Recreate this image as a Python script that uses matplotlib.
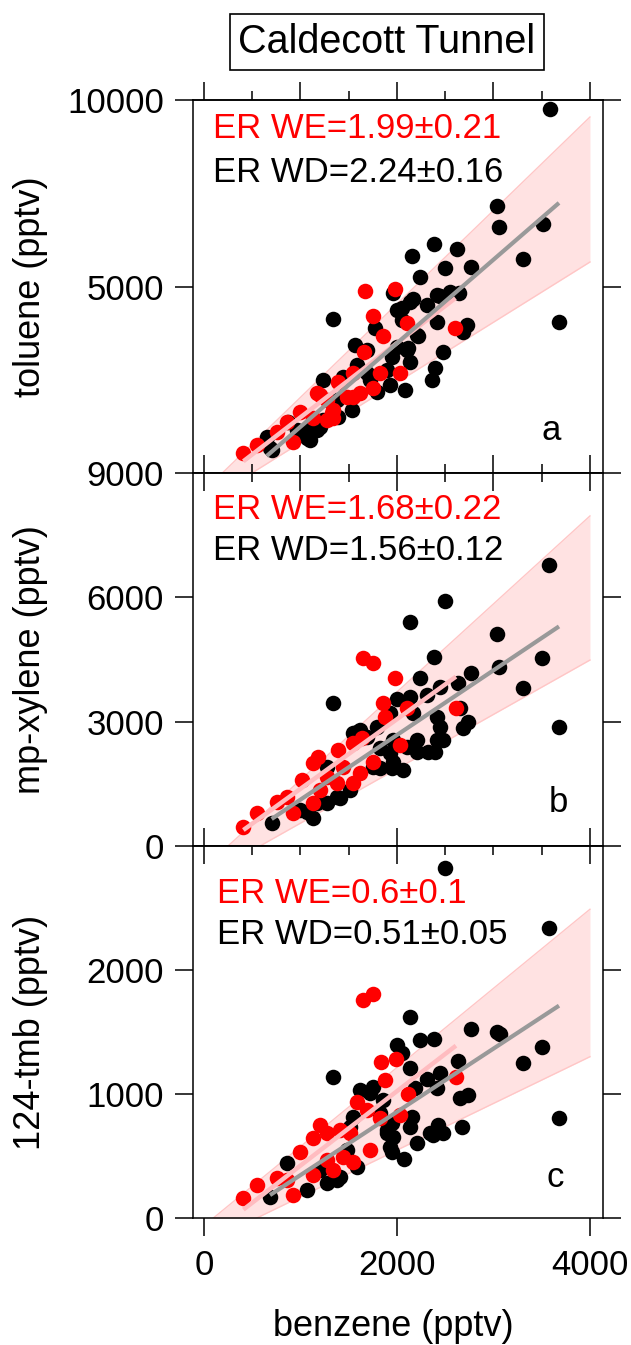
import matplotlib
matplotlib.use("Agg")
import matplotlib.pyplot as plt
import numpy as np

plt.rcParams['font.family'] = ['Liberation Sans', 'DejaVu Sans']

W, H, DPI = 631, 1345, 100

# ---------------- data (pptv) ----------------
# panel a: toluene vs benzene
tol_we_benz = [408, 546, 753, 857, 925, 995, 1133, 1167, 1202, 1271, 1271, 1323, 1340, 1340, 1392,
               1479, 1547, 1547, 1617, 1661, 1668, 1754, 1754, 1824, 1858, 1979, 2031, 2101, 2606]
tol_we = [528, 751, 1107, 1375, 839, 1644, 1466, 2137, 2080, 1957, 1421, 1600, 1466, 1689, 2448,
          2046, 2673, 2046, 2137, 3252, 4888, 4218, 2270, 2673, 3664, 4925, 2673, 4030, 3879]
tol_wd_benz = [650, 684, 701, 873, 961, 1064, 1098, 1098, 1167, 1202, 1236, 1236, 1340, 1375, 1392,
               1444, 1530, 1565, 1582, 1686, 1686, 1720, 1772, 1790, 1893, 1927, 1945, 1962, 1995,
               1997, 2047, 2048, 2083, 2099, 2117, 2135, 2135, 2152, 2169, 2204, 2221, 2238, 2307,
               2359, 2387, 2394, 2411, 2411, 2446, 2480, 2497, 2549, 2625, 2645, 2687, 2722, 2767,
               3033, 3057, 3309, 3510, 3585, 3679]
tol_wd = [973, 662, 617, 1375, 1153, 930, 1241, 885, 1153, 1241, 1421, 2493, 4129, 1957, 1510,
          2582, 1689, 3432, 2895, 2672, 3298, 2493, 3879, 2180, 2761, 2359, 3118, 4817, 4370,
          3386, 4102, 4414, 2225, 3298, 3343, 2984, 4593, 5826, 4656, 3700, 3664, 5263, 4504,
          2493, 6131, 2807, 4057, 4772, 4745, 3252, 5505, 4861, 5997, 4834, 3789, 3968, 5532,
          7158, 6603, 5737, 6667, 9750, 4057]

# panel b: mp-xylene vs benzene
xyl_we_benz = [408, 546, 753, 857, 925, 1012, 1133, 1133, 1185, 1202, 1271, 1375, 1392, 1444,
               1547, 1547, 1617, 1634, 1651, 1754, 1754, 1858, 1876, 1979, 2031, 2101, 2611]
xyl_we = [466, 788, 1069, 1190, 788, 1592, 1994, 1030, 2156, 1351, 1673, 1512, 2317, 1914,
          2477, 1512, 1753, 2598, 4525, 4404, 2034, 3442, 3118, 4046, 2437, 3318, 3318]
xyl_wd_benz = [701, 995, 1064, 1133, 1167, 1271, 1271, 1340, 1375, 1409, 1513, 1547, 1582, 1617,
               1686, 1754, 1790, 1824, 1824, 1893, 1927, 1927, 1945, 1962, 1962, 1997, 2066, 2101,
               2135, 2135, 2169, 2204, 2204, 2238, 2307, 2325, 2387, 2394, 2411, 2411, 2446, 2446,
               2480, 2497, 2635, 2653, 2687, 2739, 2767, 3033, 3057, 3309, 3506, 3575, 3679]
xyl_wd = [548, 869, 828, 664, 1030, 1914, 1030, 3458, 1190, 1151, 1351, 2719, 2758, 2799,
          2638, 1914, 2879, 2358, 1874, 3118, 2232, 3201, 1874, 2034, 2558, 3540, 1834, 2396,
          3603, 5397, 3201, 2275, 2558, 4046, 3644, 2273, 4568, 2275, 2558, 3118, 3845, 2879,
          2558, 5919, 3945, 3318, 2839, 2999, 4183, 5108, 4312, 3820, 4529, 6781, 2879]

# panel c: 1,2,4-trimethylbenzene vs benzene
tmb_we_benz = [408, 546, 753, 857, 925, 995, 1133, 1133, 1202, 1271, 1271, 1340, 1409, 1444,
               1513, 1547, 1582, 1651, 1686, 1720, 1754, 1824, 1839, 1876, 1990, 2031, 2110, 2611]
tmb_we = [159, 266, 320, 306, 185, 535, 643, 347, 750, 683, 468, 387, 710, 494,
          683, 454, 938, 1758, 871, 548, 1806, 804, 1261, 1113, 1280, 831, 1000, 1140]
tmb_wd_benz = [684, 857, 1064, 1202, 1271, 1340, 1375, 1409, 1479, 1513, 1547, 1582, 1617, 1720,
               1754, 1824, 1858, 1893, 1893, 1927, 1945, 1945, 1962, 1997, 2048, 2076, 2135, 2135,
               2135, 2152, 2187, 2204, 2238, 2307, 2342, 2376, 2387, 2411, 2411, 2428, 2446, 2480,
               2497, 2629, 2653, 2670, 2739, 2767, 3033, 3067, 3309, 3506, 3575, 3679]
tmb_wd = [172, 441, 226, 387, 280, 1135, 306, 333, 548, 736, 817, 414, 1032, 1006,
          1059, 844, 952, 683, 710, 575, 535, 764, 656, 1395, 1328, 476, 1618, 1212,
          736, 817, 1046, 602, 1436, 1119, 683, 669, 1444, 1046, 710, 750, 1167, 683,
          2820, 1266, 965, 736, 992, 1524, 1503, 1481, 1248, 1377, 2341, 804]

# emission ratios (slope, uncertainty) and fit intercepts
er_we = [(1.99, 0.21), (1.68, 0.22), (0.6, 0.1)]
er_wd = [(2.24, 0.16), (1.56, 0.12), (0.51, 0.05)]
icpt_we = [-497, -300, -177]
icpt_wd = [-1000, -441, -164]

# envelope around the weekday fit: (slope, intercept) of upper and lower edges
env_upper = [(2.505, -476), (2.123, -528), (0.638, -62)]
env_lower = [(1.615, -803), (1.312, -761), (0.3767, -206)]

ylabels = ['toluene (pptv)', 'mp-xylene (pptv)', '124-tmb (pptv)']
ylims = [(0, 10000), (0, 9000), (0, 3000)]
yticks = [[5000, 10000], [0, 3000, 6000, 9000], [0, 1000, 2000]]
panel_tags = ['a', 'b', 'c']
we_data = [(tol_we_benz, tol_we), (xyl_we_benz, xyl_we), (tmb_we_benz, tmb_we)]
wd_data = [(tol_wd_benz, tol_wd), (xyl_wd_benz, xyl_wd), (tmb_wd_benz, tmb_wd)]

# ---------------- layout (pixels) ----------------
LEFT, RIGHT = 193, 603
BOUNDS = [(100, 473), (473, 846), (846, 1218)]
TXT_X = [0.049, 0.049, 0.059]
WE_Y = [0.898, 0.877, 0.847]
WD_Y = [0.780, 0.767, 0.737]
TAG_XY = [(0.849, 0.0885), (0.868, 0.091), (0.861, 0.083)]

RED = '#ff0000'
CONE = '#ffe2e2'
CONE_EDGE = '#ffc6c6'
WE_LINE = '#ffbcc0'
WD_LINE = '#999999'
FS = 25
MAJ, MINOR, TW = 13, 6.5, 1.1
MS = 125

fig = plt.figure(figsize=(W / DPI, H / DPI), dpi=DPI)

for i in range(3):
    top, bot = BOUNDS[i]
    ax = fig.add_axes([LEFT / W, 1 - bot / H, (RIGHT - LEFT) / W, (bot - top) / H])
    ax.set_xlim(-114, 4135)
    ax.set_ylim(*ylims[i])

    # envelope
    xe = np.array([0.0, 4000.0])
    su, bu = env_upper[i]
    sl, bl = env_lower[i]
    ax.fill_between(xe, sl * xe + bl, su * xe + bu, color=CONE, lw=0, zorder=1)
    ax.plot(xe, su * xe + bu, color=CONE_EDGE, lw=1.0, zorder=1.2)
    ax.plot(xe, sl * xe + bl, color=CONE_EDGE, lw=1.0, zorder=1.2)

    # points
    wx, wy = wd_data[i]
    ex, ey = we_data[i]
    ax.scatter(wx, wy, s=MS, color='black', lw=0, zorder=2)
    ax.scatter(ex, ey, s=MS, color=RED, lw=0, zorder=2.5)

    # fits
    xr = np.array([min(ex), max(ex)])
    ax.plot(xr, er_we[i][0] * xr + icpt_we[i], color=WE_LINE, lw=3.2,
            solid_capstyle='butt', zorder=3)
    xr = np.array([min(wx), max(wx)])
    ax.plot(xr, er_wd[i][0] * xr + icpt_wd[i], color=WD_LINE, lw=3.0,
            solid_capstyle='butt', zorder=3.5)

    # annotations
    ax.text(TXT_X[i], WE_Y[i], f'ER WE={er_we[i][0]:g}\u00b1{er_we[i][1]:g}',
            transform=ax.transAxes, color=RED, fontsize=FS, ha='left', va='baseline')
    ax.text(TXT_X[i], WD_Y[i], f'ER WD={er_wd[i][0]:g}\u00b1{er_wd[i][1]:g}',
            transform=ax.transAxes, color='black', fontsize=FS, ha='left', va='baseline')
    ax.text(*TAG_XY[i], panel_tags[i], transform=ax.transAxes, fontsize=FS,
            ha='left', va='baseline')

    # spines
    for sp in ax.spines.values():
        sp.set_linewidth(TW)

    # y axis: outward ticks on both sides
    ax.set_yticks(yticks[i])
    ax.tick_params(axis='y', which='major', direction='out', length=MAJ, width=TW,
                   labelsize=FS, pad=8, left=True, right=True, labelright=False)

    # x axis ticks: bottom via main axis, top via secondary axis
    sec = ax.secondary_xaxis('top')
    sec.spines['top'].set_linewidth(TW)
    if i == 0:
        ax.set_xticks([0, 1000, 2000, 3000, 4000])
        ax.set_xticks([500, 1500, 2500, 3500], minor=True)
        ax.tick_params(axis='x', which='both', direction='in', width=TW, labelbottom=False)
        sec.set_xticks([0, 1000, 2000, 3000, 4000])
        sec.set_xticks([500, 1500, 2500, 3500], minor=True)
        sec.tick_params(axis='x', which='both', direction='out', width=TW, labeltop=False)
    elif i == 1:
        ax.set_xticks([0, 2000, 4000])
        ax.tick_params(axis='x', which='both', direction='in', width=TW, labelbottom=False)
        sec.set_xticks([0, 1000, 2000, 3000, 4000])
        sec.set_xticks([500, 1500, 2500, 3500], minor=True)
        sec.tick_params(axis='x', which='both', direction='in', width=TW, labeltop=False)
    else:
        ax.set_xticks([0, 2000, 4000])
        ax.tick_params(axis='x', which='both', direction='out', width=TW,
                       labelsize=FS, pad=9)
        sec.set_xticks([0, 2000, 4000])
        sec.set_xticks([500, 1000, 1500, 2500, 3000, 3500], minor=True)
        sec.tick_params(axis='x', which='both', direction='in', width=TW, labeltop=False)
    ax.tick_params(axis='x', which='major', length=MAJ)
    ax.tick_params(axis='x', which='minor', length=MINOR)
    sec.tick_params(axis='x', which='major', length=MAJ)
    sec.tick_params(axis='x', which='minor', length=MINOR)

    # y label
    fig.text(31 / W, 1 - ((top + bot) / 2) / H, ylabels[i], rotation=90,
             fontsize=26, ha='center', va='center')

fig.text(393 / W, 1 - 1327 / H, 'benzene (pptv)', fontsize=26, ha='center', va='center')

fig.text(387 / W, 1 - 42 / H, 'Caldecott Tunnel', fontsize=28.5, ha='center', va='center',
         bbox=dict(boxstyle='square,pad=0.22', facecolor='white', edgecolor='black', linewidth=1.2))

fig.savefig('out.png', dpi=DPI)
